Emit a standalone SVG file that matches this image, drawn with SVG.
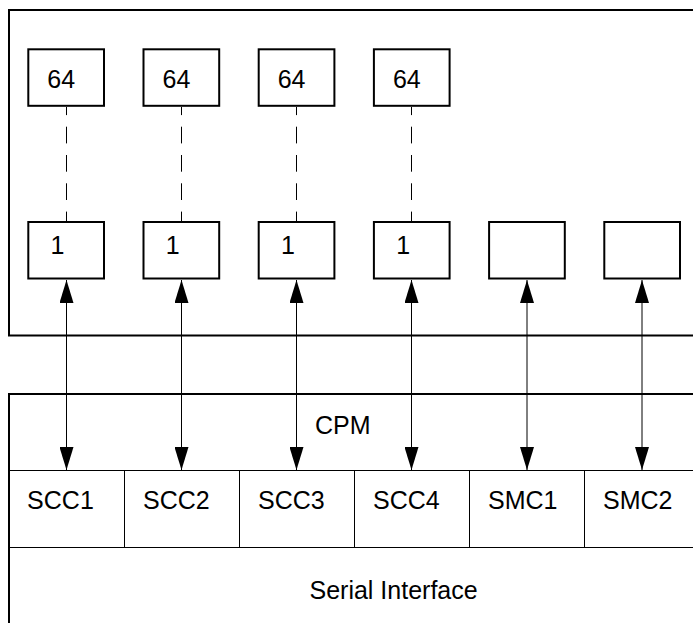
<svg xmlns="http://www.w3.org/2000/svg" width="693" height="623" viewBox="0 0 693 623">
<defs>
<style>
.outer{fill:none;stroke:#000;stroke-width:2}
.box{fill:#fff;stroke:#000;stroke-width:2}
.thin{fill:none;stroke:#000;stroke-width:1}
.dash{fill:none;stroke:#000;stroke-width:1;stroke-dasharray:16.7 11.6;stroke-dashoffset:8.6}
.arrow{fill:none;stroke:#000;stroke-width:1;marker-start:url(#ah);marker-end:url(#ah)}
text{font-family:"Liberation Sans",Arial,sans-serif;font-size:25px;fill:#000}
</style>
<marker id="ah" markerUnits="userSpaceOnUse" markerWidth="24" markerHeight="14" refX="23" refY="7" orient="auto-start-reverse" viewBox="0 0 24 14">
<path d="M0,0 L23,7 L0,14 Z" fill="#000"/>
</marker>
</defs>
<rect width="693" height="623" fill="#fff"/>

<g id="memory">
<path class="outer" d="M700,10 H9 V335.5 H700"/>
</g>

<g id="bd64-1"><rect class="box" x="28.3" y="49.3" width="75.7" height="56.5"/><text x="47.3" y="88">64</text></g>
<g id="bd64-2"><rect class="box" x="143.5" y="49.3" width="75.7" height="56.5"/><text x="162.5" y="88">64</text></g>
<g id="bd64-3"><rect class="box" x="258.7" y="49.3" width="75.7" height="56.5"/><text x="277.7" y="88">64</text></g>
<g id="bd64-4"><rect class="box" x="373.9" y="49.3" width="75.7" height="56.5"/><text x="392.9" y="88">64</text></g>

<g id="bd1-1"><rect class="box" x="28.3" y="222" width="75.7" height="56.5"/><text x="50.6" y="254">1</text></g>
<g id="bd1-2"><rect class="box" x="143.5" y="222" width="75.7" height="56.5"/><text x="165.8" y="254">1</text></g>
<g id="bd1-3"><rect class="box" x="258.7" y="222" width="75.7" height="56.5"/><text x="281" y="254">1</text></g>
<g id="bd1-4"><rect class="box" x="373.9" y="222" width="75.7" height="56.5"/><text x="396.2" y="254">1</text></g>
<g id="bd-smc1"><rect class="box" x="489.1" y="222" width="75.7" height="56.5"/></g>
<g id="bd-smc2"><rect class="box" x="604.3" y="222" width="75.7" height="56.5"/></g>

<g id="cpm">
<path class="outer" d="M700,394 H9 V630"/>
<text x="315" y="434">CPM</text>
</g>

<g id="channels">
<path class="thin" d="M9,470.5 H700 M9,547.5 H700 M124.5,470.5 V547.5 M239.5,470.5 V547.5 M354.5,470.5 V547.5 M469.5,470.5 V547.5 M584.5,470.5 V547.5"/>
</g>
<g id="scc1"><text x="27.1" y="508.5">SCC1</text></g>
<g id="scc2"><text x="143" y="508.5">SCC2</text></g>
<g id="scc3"><text x="258" y="508.5">SCC3</text></g>
<g id="scc4"><text x="373" y="508.5">SCC4</text></g>
<g id="smc1"><text x="488" y="508.5">SMC1</text></g>
<g id="smc2"><text x="603" y="508.5">SMC2</text></g>

<g id="serial-interface">
<text x="309.5" y="599">Serial Interface</text>
</g>

<g id="connectors">
<line class="dash" x1="66.5" y1="107" x2="66.5" y2="221"/>
<line class="dash" x1="181.5" y1="107" x2="181.5" y2="221"/>
<line class="dash" x1="296.5" y1="107" x2="296.5" y2="221"/>
<line class="dash" x1="411.5" y1="107" x2="411.5" y2="221"/>
<line class="arrow" x1="66.5" y1="280" x2="66.5" y2="470"/>
<line class="arrow" x1="181.5" y1="280" x2="181.5" y2="470"/>
<line class="arrow" x1="296.5" y1="280" x2="296.5" y2="470"/>
<line class="arrow" x1="411.5" y1="280" x2="411.5" y2="470"/>
<line class="arrow" x1="527" y1="280" x2="527" y2="470"/>
<line class="arrow" x1="642" y1="280" x2="642" y2="470"/>
</g>
</svg>
